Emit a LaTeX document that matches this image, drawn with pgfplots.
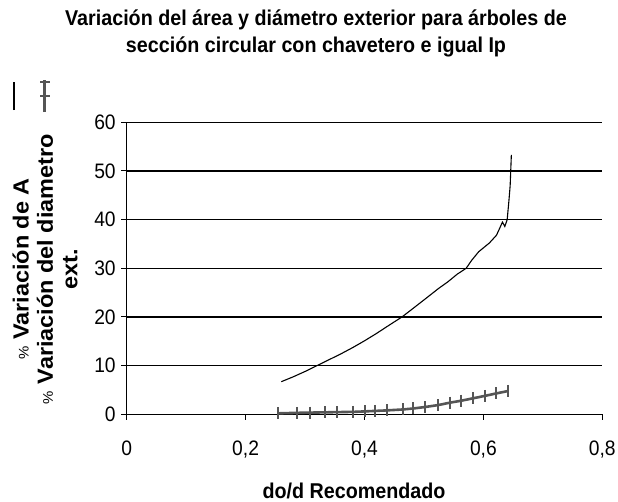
\documentclass[border=0pt]{standalone}
\usepackage{fontspec}
\setmainfont{Liberation Sans}
\newfontfamily\narrowfont{Liberation Sans}[FakeStretch=0.92]
\newfontfamily\widefont{Liberation Sans}[FakeStretch=1.07]
\usepackage{pgfplots}
\pgfplotsset{compat=1.18}
\definecolor{grayser}{RGB}{85,85,85}
\pgfplotsset{
  legA/.style={legend image code/.code={\draw[##1, line width=1.5bp] (0bp,-14bp) -- (0bp,14bp);}},
  legB/.style={legend image code/.code={\draw[##1, line width=2.6bp, mark=-, mark size=5bp, mark options={line width=2bp}, mark indices={2,3}] plot coordinates {(0bp,-16bp) (0bp,0bp) (0bp,14bp) (0bp,16bp)};}},
}
\begin{document}
\begin{tikzpicture}[x=1bp,y=1bp]
\useasboundingbox (0,0) rectangle (618,-502);
\node[font=\narrowfont\bfseries\fontsize{21.5}{27}\selectfont, align=center] at (316,-33.5)
  {Variación del área y diámetro exterior para árboles de\\sección circular con chavetero e igual Ip};
\node[font=\narrowfont\bfseries\fontsize{21.5}{24}\selectfont] at (354,-491) {do/d Recomendado};
\begin{axis}[
  at={(126.7bp,-414.3bp)}, anchor=south west,
  scale only axis, width=475.6bp, height=292bp,
  xmin=0, xmax=0.8, ymin=0, ymax=60,
  xtick={0,0.2,0.4,0.6,0.8}, ytick={0,10,...,60},
  axis lines=left, axis line style={-, black, line width=1bp},
  ymajorgrids, grid style={black, line width=1.3bp},
  tick style={black, line width=1bp}, tick align=outside, major tick length=5.5bp,
  /pgf/number format/.cd, use comma, fixed, assume math mode=true, /pgfplots/.cd,
  ticklabel style={font=\narrowfont\fontsize{21}{21}\selectfont},
  yticklabel style={xshift=-2bp},
  xticklabel style={yshift=-18bp},
  clip=false,
  ylabel={{\mdseries\fontsize{14}{14}\selectfont\%}~Variación de A\\{\mdseries\fontsize{14}{14}\selectfont\%}~Variación del diametro\\ext.},
  ylabel style={font=\widefont\bfseries\fontsize{22}{24.5}\selectfont, align=center,
    at={(axis description cs:-0.1718,0.4976)}, anchor=center},
  legend style={at={(axis description cs:-0.1865,1.09)}, anchor=center,
    draw=none, fill=none, inner sep=0pt, column sep=12bp,
    nodes={inner sep=0pt}},
  legend columns=2,
]
\addplot[black, line width=1.1bp, legA] coordinates {
(0.260,6.7) (0.280,7.7) (0.300,8.8) (0.320,10.0) (0.340,11.2) (0.360,12.4)
(0.380,13.7) (0.400,15.1) (0.420,16.6) (0.440,18.2) (0.463,20.0) (0.480,21.6)
(0.500,23.5) (0.525,25.9) (0.540,27.2) (0.556,28.8) (0.571,30.0) (0.580,31.6)
(0.592,33.4) (0.600,34.2) (0.610,35.2) (0.622,36.8) (0.628,38.4) (0.632,39.5)
(0.636,38.6) (0.640,40.0) (0.643,44.0) (0.645,47.0) (0.647,53.3)
};
\addlegendentry{\mbox{}}
\addplot[grayser, line width=2.6bp, mark=|, mark size=6bp, mark options={line width=2bp}, legB] coordinates {
(0.255,0.2) (0.286,0.3) (0.308,0.35) (0.334,0.4) (0.353,0.45) (0.381,0.5)
(0.401,0.6) (0.418,0.7) (0.437,0.8) (0.465,1.0) (0.482,1.2) (0.502,1.5)
(0.524,1.9) (0.544,2.4) (0.563,2.8) (0.583,3.3) (0.603,3.8) (0.622,4.3)
(0.642,4.8)
};
\addlegendentry{\mbox{}}
\end{axis}
\end{tikzpicture}
\end{document}
